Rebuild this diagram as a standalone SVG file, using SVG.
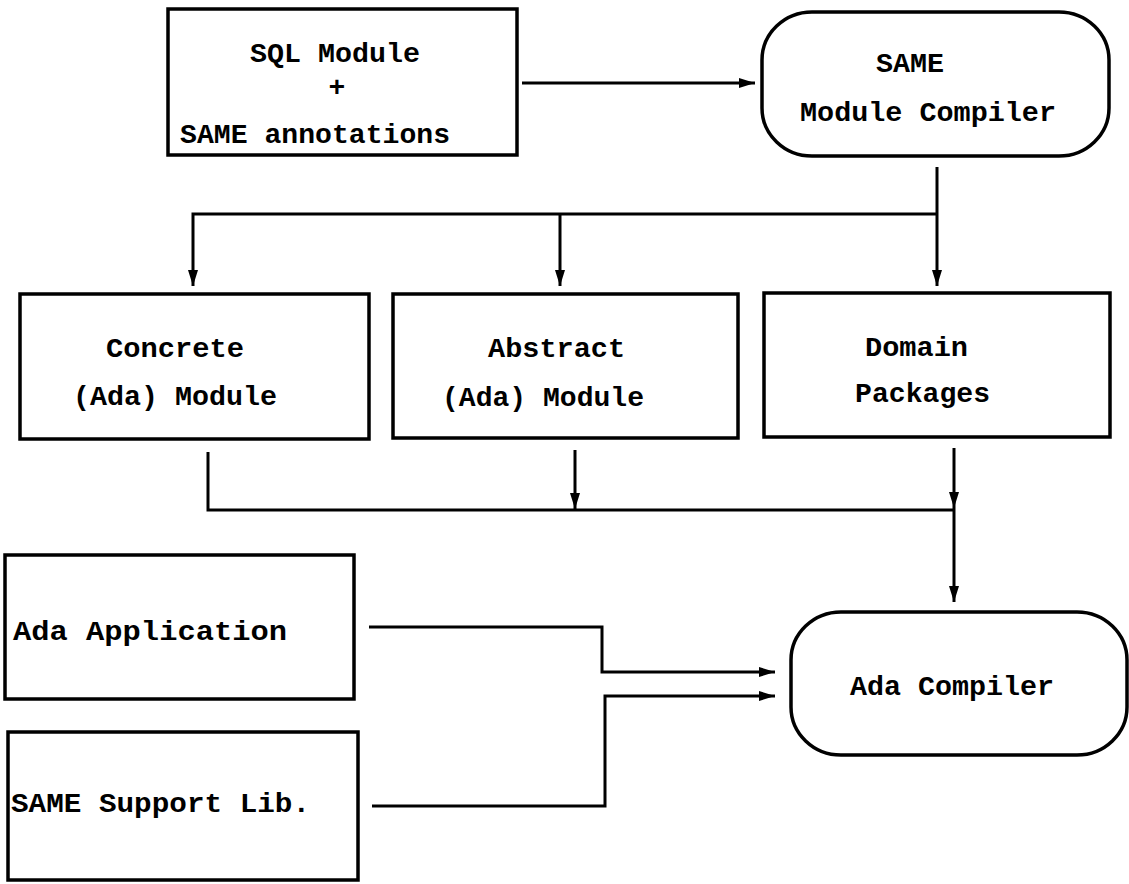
<svg xmlns="http://www.w3.org/2000/svg" width="1129" height="884" viewBox="0 0 1129 884">
<style>
.box{fill:none;stroke:#000;stroke-width:3.5}
.t{font-family:"Liberation Mono","DejaVu Sans Mono",monospace;font-weight:bold;font-size:28px;fill:#000}
.c{fill:none;stroke:#000;stroke-width:3}
</style>
<defs>
<marker id="ah" markerWidth="16" markerHeight="12" refX="16" refY="6" orient="auto" markerUnits="userSpaceOnUse">
<path d="M0,1 L16,6 L0,11 Z" fill="#000"/>
</marker>
</defs>
<rect width="1129" height="884" fill="#fff"/>
<g id="sql">
<rect class="box" x="168" y="9" width="349" height="146"/>
<text class="t" x="250" y="62" textLength="170" lengthAdjust="spacingAndGlyphs">SQL Module</text>
<text class="t" x="337" y="96" text-anchor="middle">+</text>
<text class="t" x="180" y="143" textLength="270" lengthAdjust="spacingAndGlyphs">SAME annotations</text>
</g>
<g id="same">
<rect class="box" x="762" y="12" width="347" height="144" rx="50" ry="48"/>
<text class="t" x="876" y="72" textLength="68" lengthAdjust="spacingAndGlyphs">SAME</text>
<text class="t" x="800" y="121" textLength="256" lengthAdjust="spacingAndGlyphs">Module Compiler</text>
</g>
<g id="concrete">
<rect class="box" x="20" y="294" width="349" height="145"/>
<text class="t" x="106" y="357" textLength="138" lengthAdjust="spacingAndGlyphs">Concrete</text>
<text class="t" x="73" y="405" textLength="204" lengthAdjust="spacingAndGlyphs">(Ada) Module</text>
</g>
<g id="abstract">
<rect class="box" x="393" y="294" width="345" height="144"/>
<text class="t" x="488" y="357" textLength="137" lengthAdjust="spacingAndGlyphs">Abstract</text>
<text class="t" x="442" y="406" textLength="202" lengthAdjust="spacingAndGlyphs">(Ada) Module</text>
</g>
<g id="domain">
<rect class="box" x="764" y="293" width="346" height="144"/>
<text class="t" x="865" y="356" textLength="103" lengthAdjust="spacingAndGlyphs">Domain</text>
<text class="t" x="855" y="402" textLength="135" lengthAdjust="spacingAndGlyphs">Packages</text>
</g>
<g id="adaapp">
<rect class="box" x="5" y="555" width="349" height="144"/>
<text class="t" x="13" y="640" textLength="274" lengthAdjust="spacingAndGlyphs">Ada Application</text>
</g>
<g id="support">
<rect class="box" x="8" y="732" width="350" height="148"/>
<text class="t" x="11" y="812" textLength="299" lengthAdjust="spacingAndGlyphs">SAME Support Lib.</text>
</g>
<g id="adacomp">
<rect class="box" x="791" y="612" width="336" height="143" rx="50" ry="48"/>
<text class="t" x="850" y="695" textLength="204" lengthAdjust="spacingAndGlyphs">Ada Compiler</text>
</g>
<g id="connectors">
<path class="c" d="M522,83 H755" marker-end="url(#ah)"/>
<path class="c" d="M937,167 V286" marker-end="url(#ah)"/>
<path class="c" d="M937,214 H193 V286" marker-end="url(#ah)"/>
<path class="c" d="M560,214 V286" marker-end="url(#ah)"/>
<path class="c" d="M208,452 V510 H954"/>
<path class="c" d="M575,450 V509" marker-end="url(#ah)"/>
<path class="c" d="M954,448 V508" marker-end="url(#ah)"/>
<path class="c" d="M954,508 V602" marker-end="url(#ah)"/>
<path class="c" d="M369,627 H602 V672 H775" marker-end="url(#ah)"/>
<path class="c" d="M372,806 H605 V696 H775" marker-end="url(#ah)"/>
</g>
</svg>
